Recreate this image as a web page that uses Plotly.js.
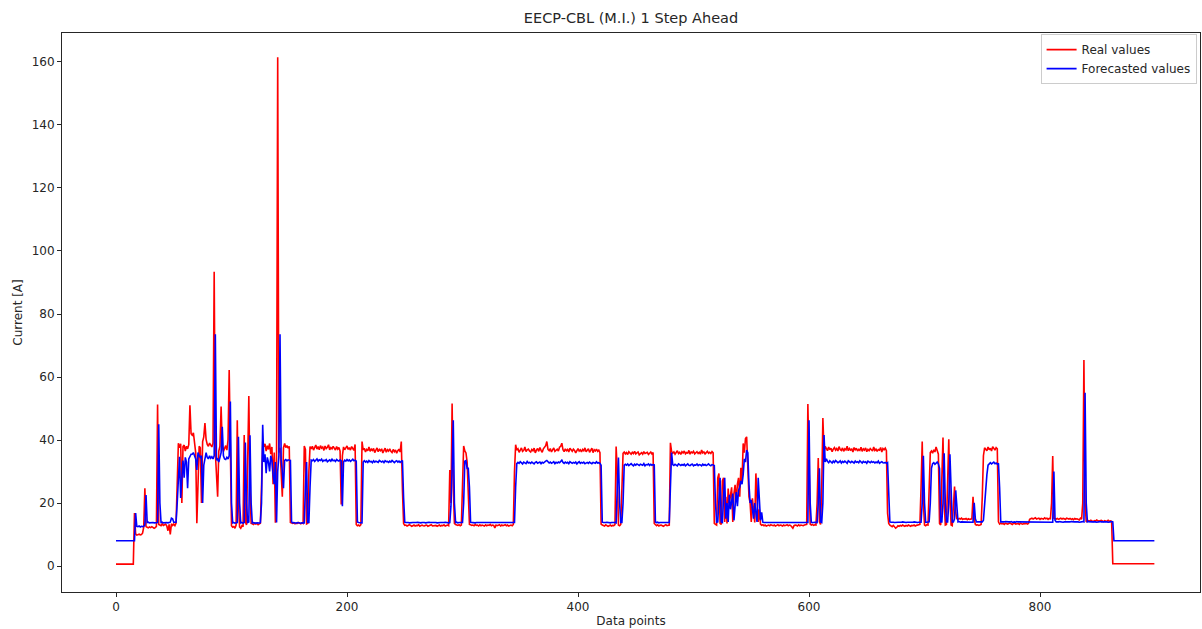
<!DOCTYPE html>
<html>
<head>
<meta charset="utf-8">
<script src="https://cdn.plot.ly/plotly-3.0.1.min.js"></script>
<style>
  html, body { margin: 0; padding: 0; background: #fff; }
  #chart { width: 1202px; height: 629px; }
</style>
</head>
<body>
<div id="chart"></div>
<script>
// ---- Data (index = data point) ----
const chartTitle = "EECP-CBL (M.I.) 1 Step Ahead";
const xLabel = "Data points";
const yLabel = "Current [A]";
const seriesNames = ["Real values", "Forecasted values"];
const xTicks = [0, 200, 400, 600, 800];
const yTicks = [0, 20, 40, 60, 80, 100, 120, 140, 160];

const realValues = [
  // 0-15
  0.6,0.6,0.6,0.6,0.6,0.6,0.6,0.6,0.6,0.6,0.6,0.6,0.6,0.6,0.6,0.6,
  // 16-24
  16.8,10.2,9.8,10.0,10.1,9.9,10.0,10.4,12.3,
  // 25-35
  24.7,12.5,12.3,12.1,12.4,12.2,12.5,12.3,12.0,12.2,12.6,
  // 36-52
  51.3,13.2,13.0,12.8,13.4,12.9,13.1,13.3,12.7,11.2,13.2,10.0,13.4,12.9,13.3,12.8,13.6,
  // 53-69
  28.4,39.0,37.5,38.8,20.0,37.9,38.4,36.5,38.0,37.2,38.5,51.0,42.0,41.5,42.3,38.6,36.0,
  // 70-84
  13.6,30.0,38.0,37.5,20.0,39.5,41.0,45.4,40.2,38.6,38.0,39.0,38.5,37.8,39.0,
  // 85-99
  93.4,36.0,30.0,22.0,36.5,38.0,50.6,38.0,36.4,37.5,38.2,36.8,40.0,62.2,30.0,
  // 100-117
  12.8,12.3,12.5,12.0,13.0,46.3,20.0,12.4,12.0,12.8,12.5,41.6,14.0,13.0,30.0,54.0,25.0,13.5,
  // 118-125
  13.4,13.2,13.6,13.3,13.5,13.1,13.4,13.6,
  // 126-139
  25.0,39.5,37.9,38.8,36.5,38.2,37.0,38.9,35.5,37.8,26.0,36.0,13.7,35.0,
  // 140-150
  161.5,36.0,37.5,30.0,22.0,37.5,38.9,37.6,38.2,37.4,38.0,
  // 151-162
  13.8,13.6,13.5,13.7,13.4,13.6,13.5,13.8,13.6,13.4,13.7,13.5,
  // 163-168
  38.1,37.0,13.4,13.6,30.0,37.9,
  // 169-194
  37.2,38.0,36.8,37.6,38.4,37.1,37.9,36.9,38.2,37.4,
  37.8,36.7,38.1,37.3,37.7,38.5,36.9,37.6,37.2,38.0,
  37.4,36.8,37.9,37.1,37.6,36.5,
  // 195-196
  19.5,35.0,
  // 197-207
  37.8,36.9,37.5,38.1,37.0,37.6,36.8,37.9,37.3,36.7,38.6,
  // 208-213
  13.2,12.8,13.0,12.7,13.1,39.5,
  // 214-246
  36.9,37.4,36.2,37.0,36.6,37.8,36.4,37.1,36.7,37.3,
  36.0,36.8,37.5,36.3,37.0,36.6,37.2,35.9,36.8,37.4,
  36.1,36.9,36.5,37.2,36.4,36.0,37.0,36.3,36.8,35.8,
  36.6,37.1,36.2,
  // 247-249
  39.5,24.0,13.5,
  // 250-288
  12.9,13.0,12.7,12.8,13.1,12.9,12.6,12.8,13.0,12.7,
  12.9,12.8,13.1,12.6,12.9,13.0,12.8,12.7,12.9,13.0,
  12.6,12.8,12.9,13.1,12.7,12.8,13.0,12.9,12.6,12.8,
  13.0,12.7,12.9,12.8,13.1,12.7,12.9,13.0,12.8,
  // 289-306
  30.5,20.0,51.6,25.0,13.5,13.2,13.0,12.9,13.1,12.8,13.0,30.0,38.1,36.5,35.9,33.0,20.0,13.2,
  // 307-344
  13.1,12.9,13.0,12.8,13.2,12.9,13.0,12.7,13.1,12.8,
  13.0,12.9,12.7,13.1,12.8,13.0,12.9,13.2,12.8,13.0,
  12.9,12.1,13.0,12.8,12.9,13.1,12.7,13.0,12.8,12.9,
  13.1,12.8,13.0,12.7,12.9,13.0,12.8,13.2,
  // 345-346
  30.0,38.5,
  // 347-418
  36.8,37.2,36.1,36.9,37.5,36.4,36.7,37.8,36.3,36.9,37.1,36.5,
  36.2,37.0,36.6,37.4,35.9,36.8,37.3,36.4,37.6,36.7,36.1,37.2,
  37.9,38.2,39.5,37.0,36.6,37.3,36.2,36.9,37.5,36.4,36.8,37.1,
  36.5,37.7,38.0,39.0,36.9,36.3,37.2,36.6,37.0,36.2,37.4,36.8,
  36.4,37.1,36.7,35.9,36.8,37.3,36.5,36.9,36.2,37.0,36.6,37.5,
  36.3,36.8,37.2,36.1,36.7,37.4,36.0,36.9,36.5,37.1,36.4,36.8,
  // 419-420
  36.0,13.3,
  // 421-432
  13.0,12.8,12.7,13.1,12.9,12.6,12.8,13.0,12.7,12.9,12.8,13.1,
  // 433-439
  37.9,30.0,13.0,12.8,13.2,25.0,35.8,
  // 440-465
  36.2,35.6,36.0,35.4,36.3,35.8,35.5,36.1,35.7,36.4,
  35.6,35.9,36.2,35.3,35.8,36.0,35.5,36.3,35.7,35.9,
  36.1,35.4,35.8,36.2,35.6,36.0,
  // 466
  13.5,
  // 467-479
  13.0,12.8,13.1,12.7,12.9,13.0,12.8,12.6,12.9,13.1,12.8,12.9,13.0,
  // 480
  39.1,
  // 481-517
  36.4,35.8,36.2,35.5,36.0,36.6,35.7,36.1,35.4,36.3,
  35.9,36.5,35.6,36.0,35.8,36.7,35.5,36.2,35.9,36.4,
  35.6,36.0,36.3,35.7,36.1,35.5,36.8,35.9,36.2,35.6,
  36.0,36.4,35.8,36.1,35.7,36.3,35.9,
  // 518
  13.5,
  // 519-558
  13.2,13.0,28.0,29.4,13.5,13.2,27.0,28.0,14.0,22.0,
  13.5,24.6,20.0,22.5,25.0,14.0,23.0,25.8,20.5,26.0,
  28.0,22.0,31.2,27.0,38.9,36.0,40.5,41.0,30.0,22.0,
  20.0,14.0,21.5,18.0,13.8,29.4,20.0,14.0,18.0,13.3,
  // 559-598
  12.9,13.1,12.8,13.0,12.7,12.9,13.0,12.8,13.1,12.9,
  12.8,13.0,12.7,12.9,13.1,12.8,13.0,12.9,12.7,13.0,
  12.8,12.9,13.1,12.8,13.0,12.9,12.6,12.0,12.8,13.0,
  12.9,12.7,13.1,12.8,13.0,12.9,12.8,13.0,13.1,13.2,
  // 599-614
  51.4,25.0,13.3,13.0,13.2,12.9,13.1,13.0,20.0,34.3,14.0,13.2,25.0,47.0,36.0,38.0,
  // 615-667
  37.2,36.6,37.8,36.9,37.4,36.3,37.1,37.6,36.8,37.3,
  36.5,37.9,37.0,36.7,37.5,36.4,37.2,36.9,38.0,36.6,
  37.3,36.8,37.1,36.2,37.6,36.9,37.4,36.5,37.0,36.7,
  37.7,36.4,37.2,36.8,37.5,36.3,37.0,36.6,37.3,36.9,
  36.5,37.8,36.7,37.1,36.4,37.0,36.8,37.6,36.2,37.3,
  36.9,37.4,36.6,
  // 668-669
  16.8,13.5,
  // 670-694
  13.0,12.7,12.5,12.9,12.4,12.0,12.3,12.8,12.6,12.9,
  12.7,13.0,12.8,12.6,12.9,12.7,13.0,12.8,12.6,12.9,
  12.8,13.0,12.7,12.9,13.0,
  // 695-727
  13.0,13.2,25.0,39.5,20.0,13.0,12.8,13.1,13.0,25.0,
  36.0,36.5,35.8,36.9,36.2,37.8,36.4,35.5,13.5,13.0,
  28.0,40.8,20.0,13.0,13.2,30.0,40.2,22.0,13.0,12.8,
  18.0,25.2,17.0,
  // 728-741
  15.0,14.8,15.1,14.9,15.2,14.8,15.0,14.9,15.1,14.7,15.0,14.8,14.9,15.0,
  // 742-749
  22.0,15.0,13.2,13.0,13.1,12.9,13.0,13.2,
  // 750-764
  22.0,35.0,37.5,37.0,36.6,37.8,36.9,37.4,36.5,37.9,37.1,36.8,37.6,37.2,14.0,
  // 765-790
  13.3,13.6,13.4,13.5,13.2,13.6,13.4,13.3,13.5,13.7,
  13.4,13.2,13.5,13.6,13.3,13.4,13.5,13.2,13.6,13.4,
  13.3,13.5,13.4,13.6,13.3,13.5,
  // 791-837
  14.8,15.0,15.2,14.9,15.1,15.3,14.9,15.0,15.2,14.8,
  15.1,15.0,14.9,15.3,15.0,15.2,14.8,15.1,15.0,20.0,
  34.9,15.2,15.0,14.9,15.1,14.8,15.0,15.2,14.9,15.1,
  15.0,14.8,15.2,15.0,14.9,15.1,14.8,15.0,14.7,15.1,
  14.9,15.0,14.8,14.6,15.2,14.9,20.0,
  // 838-840
  65.4,20.0,14.0,
  // 841-862
  14.3,14.4,14.2,14.5,14.3,14.1,14.4,14.2,14.6,14.3,
  14.2,14.4,14.5,14.3,14.1,14.4,14.2,14.3,14.5,14.2,
  14.3,14.1,
  // 863-899
  0.7,0.7,0.7,0.7,0.7,0.7,0.7,0.7,0.7,0.7,
  0.7,0.7,0.7,0.7,0.7,0.7,0.7,0.7,0.7,0.7,
  0.7,0.7,0.7,0.7,0.7,0.7,0.7,0.7,0.7,0.7,
  0.7,0.7,0.7,0.7,0.7,0.7,0.7
];

const forecastValues = [
  // 0-16
  8.0,8.0,8.0,8.0,8.0,8.0,8.0,8.0,8.0,8.0,8.0,8.0,8.0,8.0,8.0,8.0,8.0,
  // 17-25
  16.8,12.6,12.5,12.7,12.4,12.6,12.5,12.6,13.0,
  // 26-36
  22.5,13.8,13.9,13.7,13.8,13.9,13.8,13.7,13.8,13.9,13.8,
  // 37-52
  45.0,20.0,13.8,13.9,13.7,13.8,13.9,13.8,13.7,13.8,13.9,15.2,15.0,13.9,13.8,13.9,
  // 53-69
  20.0,27.3,34.7,21.6,30.0,33.5,28.0,34.5,33.0,24.7,34.0,35.0,35.5,35.5,36.0,35.0,34.0,
  // 70-85
  30.5,36.0,35.0,34.5,35.0,20.0,32.0,34.7,36.0,34.5,34.0,35.0,34.2,34.7,34.0,35.0,
  // 86-99
  73.6,33.6,34.0,33.0,34.5,36.0,44.2,35.0,34.0,33.8,34.5,34.0,35.0,52.2,
  // 100-117
  20.0,13.7,13.8,13.6,13.7,13.8,41.0,20.0,13.7,13.8,13.6,13.8,39.2,20.0,13.8,14.0,41.5,20.0,
  // 118-125
  13.7,13.8,13.6,13.7,13.8,13.7,13.6,13.8,
  // 126-141
  20.0,44.8,33.0,35.5,29.5,34.5,33.0,30.0,35.0,33.5,29.0,26.0,33.0,13.8,30.0,35.0,
  // 142-151
  73.6,33.6,30.0,24.7,33.5,33.8,33.4,33.7,33.6,33.5,
  // 152-163
  14.0,13.7,13.8,13.7,13.6,13.8,13.7,13.8,13.6,13.7,13.8,13.7,
  // 164-169
  25.0,33.0,13.8,13.8,25.0,33.6,
  // 170-195
  33.4,33.8,33.2,33.6,34.0,33.3,33.7,33.5,33.9,33.2,
  33.6,33.4,33.8,33.1,33.5,33.7,33.3,33.9,33.4,33.6,
  33.2,33.8,33.5,33.3,33.7,33.4,
  // 196-197
  19.0,33.0,
  // 198-208
  33.6,33.3,33.8,33.4,33.7,33.2,33.5,33.9,33.4,33.6,33.3,
  // 209-213
  14.0,13.8,13.7,13.8,13.7,
  // 214
  33.0,
  // 215-248
  33.4,33.0,33.3,32.9,33.5,33.1,33.2,32.8,33.4,33.0,
  33.3,33.1,32.9,33.5,33.2,33.0,33.3,32.8,33.4,33.1,
  33.2,32.9,33.3,33.0,33.5,33.1,32.8,33.2,33.4,33.0,
  33.3,32.9,33.1,33.5,
  // 249-250
  21.6,13.9,
  // 251-289
  13.8,13.9,13.8,13.7,13.8,13.9,13.8,13.8,13.7,13.8,
  13.9,13.8,13.8,13.7,13.8,13.9,13.8,13.7,13.8,13.8,
  13.9,13.8,13.7,13.8,13.8,13.9,13.8,13.7,13.8,13.9,
  13.8,13.8,13.7,13.8,13.9,13.8,13.8,13.7,13.8,
  // 290-293
  19.0,30.5,46.3,20.0,
  // 294-300
  13.8,13.9,13.7,13.8,13.8,13.9,13.8,
  // 301-307
  20.0,33.3,33.5,31.0,31.0,25.0,13.9,
  // 308-345
  13.8,13.9,13.8,13.7,13.8,13.8,13.9,13.8,13.7,13.8,
  13.8,13.9,13.8,13.8,13.7,13.8,13.9,13.8,13.8,13.7,
  13.8,13.9,13.8,13.7,13.8,13.8,13.9,13.8,13.7,13.8,
  13.9,13.8,13.8,13.7,13.8,13.9,13.8,13.8,
  // 346-347
  25.0,32.5,
  // 348-419
  32.9,32.6,33.1,32.7,32.4,33.0,32.8,32.5,33.2,32.7,32.9,32.6,
  33.0,32.8,32.4,32.9,33.1,32.6,32.8,33.0,32.5,32.9,32.7,33.2,
  33.3,33.5,32.9,32.7,33.0,32.6,32.8,33.1,32.5,32.9,32.7,33.0,
  32.8,33.4,33.6,32.9,32.6,33.0,32.7,32.9,32.5,33.1,32.8,32.6,
  32.9,32.7,33.0,32.4,32.8,33.1,32.6,32.9,32.7,33.0,32.5,32.8,
  32.9,32.6,33.0,32.7,32.5,32.9,32.8,32.6,33.1,32.7,32.8,32.6,
  // 420-421
  32.0,13.9,
  // 422-433
  13.8,13.7,13.8,13.9,13.8,13.8,13.7,13.8,13.9,13.8,13.8,13.7,
  // 434-440
  25.0,34.4,20.0,13.8,13.8,20.0,32.0,
  // 441-466
  32.3,32.0,32.4,31.9,32.2,32.5,32.1,31.8,32.3,32.0,
  32.4,32.1,31.9,32.3,32.2,32.0,32.5,31.8,32.2,32.1,
  32.4,31.9,32.3,32.0,32.2,32.1,
  // 467
  14.0,
  // 468-479
  13.8,13.9,13.7,13.8,13.8,13.9,13.8,13.7,13.8,13.9,13.8,13.8,
  // 480-481
  25.0,36.0,
  // 482-518
  32.2,31.9,32.3,32.0,31.8,32.4,32.1,31.9,32.2,32.0,
  32.3,31.8,32.1,32.4,32.0,31.9,32.2,32.3,31.8,32.1,
  32.0,32.4,31.9,32.2,32.1,31.8,32.3,32.0,32.2,31.9,
  32.1,32.4,32.0,31.8,32.2,32.1,31.9,
  // 519
  20.0,
  // 520-559
  13.9,14.0,20.0,28.0,14.0,13.8,22.0,28.0,15.0,20.0,
  14.0,22.6,18.0,20.5,23.0,14.5,21.0,23.5,19.0,24.0,
  25.0,27.0,26.0,29.0,34.0,33.0,36.8,36.0,26.0,20.0,
  21.0,17.0,15.0,20.0,17.0,14.0,28.0,19.0,14.5,17.0,
  // 560-599
  13.9,13.8,13.8,13.7,13.8,13.9,13.8,13.8,13.7,13.8,
  13.9,13.8,13.8,13.7,13.8,13.8,13.9,13.8,13.7,13.8,
  13.8,13.9,13.8,13.7,13.8,13.8,13.9,13.8,13.8,13.7,
  13.8,13.9,13.8,13.8,13.7,13.8,13.9,13.8,13.8,13.8,
  // 600-615
  46.3,20.0,13.8,13.7,13.8,13.9,13.8,13.8,20.0,31.0,14.0,13.8,20.0,41.6,33.0,34.0,
  // 616-668
  33.2,32.8,33.4,33.0,32.7,33.3,32.9,33.5,33.1,32.8,
  33.0,33.4,32.7,33.2,32.9,33.3,33.0,32.6,33.4,33.1,
  32.8,33.2,33.0,32.7,33.3,32.9,33.1,32.8,33.4,33.0,
  32.7,33.2,32.9,33.1,32.6,33.3,33.0,32.8,33.2,32.9,
  33.1,32.7,33.0,32.8,33.3,32.6,32.9,33.1,32.8,32.7,
  32.9,32.6,32.8,
  // 669-670
  20.4,14.0,
  // 671-697
  13.9,14.0,13.9,13.8,13.9,14.0,13.9,13.9,13.8,13.9,
  14.0,13.9,13.9,13.8,13.9,14.0,13.9,13.9,13.8,13.9,
  14.0,13.9,13.9,13.8,13.9,14.0,13.9,
  // 698-728
  20.0,35.0,20.0,13.9,13.9,13.9,14.0,20.0,31.0,32.5,
  32.8,32.3,32.6,33.0,32.4,31.0,14.0,14.0,20.0,35.8,
  20.0,14.0,14.0,20.0,35.5,20.0,14.0,14.0,15.0,24.0,
  18.0,
  // 729-742
  14.0,14.1,13.9,14.0,14.0,14.1,13.9,14.0,14.0,13.9,14.1,14.0,14.0,13.9,
  // 743-744
  20.1,15.0,
  // 745-751
  14.0,13.9,14.0,14.0,13.9,14.0,14.5,
  // 752-766
  20.0,25.0,29.0,32.0,32.5,32.8,32.4,32.6,33.0,32.5,32.7,32.3,32.6,25.0,14.0,
  // 767-811
  14.0,13.9,14.0,14.1,14.0,13.9,14.0,14.0,14.1,13.9,
  14.0,14.0,13.9,14.1,14.0,14.0,13.9,14.0,14.1,14.0,
  14.0,13.9,14.0,14.1,14.0,13.9,14.0,14.0,14.1,14.0,
  13.9,14.0,14.0,14.1,13.9,14.0,14.0,14.1,14.0,13.9,
  14.0,14.0,14.1,14.0,13.9,
  // 812-813
  30.0,14.5,
  // 814-838
  14.0,13.9,14.0,14.1,14.0,14.0,13.9,14.0,14.1,14.0,
  14.0,13.9,14.0,14.1,14.0,13.9,14.0,14.0,14.1,14.0,
  13.9,14.0,14.0,14.1,14.0,
  // 839-840
  55.0,20.0,
  // 841-863
  14.0,14.1,14.0,13.9,14.0,14.0,14.1,14.0,13.9,14.0,
  14.0,14.1,14.0,13.9,14.0,14.0,14.1,14.0,13.9,14.0,
  14.0,14.1,14.0,
  // 864-899
  8.0,8.0,8.0,8.0,8.0,8.0,8.0,8.0,8.0,8.0,
  8.0,8.0,8.0,8.0,8.0,8.0,8.0,8.0,8.0,8.0,
  8.0,8.0,8.0,8.0,8.0,8.0,8.0,8.0,8.0,8.0,
  8.0,8.0,8.0,8.0,8.0,8.0
];

// x positions are simply the data point index
const realX = realValues.map((_, i) => i);
const forecastX = forecastValues.map((_, i) => i);

const FONT = "DejaVu Sans, sans-serif";
const AX = "#262626";

const traces = [
  { x: realX, y: realValues, type: "scatter", mode: "lines", name: seriesNames[0],
    line: { color: "#ff0000", width: 1.6 } },
  { x: forecastX, y: forecastValues, type: "scatter", mode: "lines", name: seriesNames[1],
    line: { color: "#0000ff", width: 1.6 } }
];

const layout = {
  width: 1202, height: 629,
  paper_bgcolor: "#ffffff", plot_bgcolor: "#ffffff",
  margin: { l: 62, r: 2, t: 33, b: 37 },
  font: { family: FONT, size: 12, color: AX },
  title: { text: chartTitle, font: { family: FONT, size: 14.5, color: AX },
           x: 0.5, xref: "paper", y: 1 - 18/629, yref: "container", yanchor: "middle" },
  showlegend: true,
  legend: {
    x: 0.997, y: 0.998, xanchor: "right", yanchor: "top",
    bgcolor: "rgba(255,255,255,0.85)", bordercolor: "#cccccc", borderwidth: 1,
    font: { family: FONT, size: 12, color: AX },
    tracegroupgap: 0, itemwidth: 30
  },
  xaxis: {
    range: [-46.75, 938.5], tickmode: "array", tickvals: xTicks,
    ticktext: xTicks.map(String),
    ticks: "outside", ticklen: 4, tickwidth: 1, tickcolor: AX,
    showline: true, linecolor: AX, linewidth: 1, mirror: true,
    showgrid: false, zeroline: false,
    tickfont: { family: FONT, size: 12, color: AX },
    title: { text: xLabel, font: { family: FONT, size: 12, color: AX }, standoff: 3 }
  },
  yaxis: {
    range: [-8.25, 169.2], tickmode: "array", tickvals: yTicks,
    ticktext: yTicks.map(String),
    ticks: "outside", ticklen: 4, tickwidth: 1, tickcolor: AX,
    showline: true, linecolor: AX, linewidth: 1, mirror: true,
    showgrid: false, zeroline: false,
    tickfont: { family: FONT, size: 12, color: AX },
    title: { text: yLabel, font: { family: FONT, size: 12, color: AX }, standoff: 6 }
  }
};

Plotly.newPlot("chart", traces, layout, { staticPlot: true, displayModeBar: false });
</script>
</body>
</html>
